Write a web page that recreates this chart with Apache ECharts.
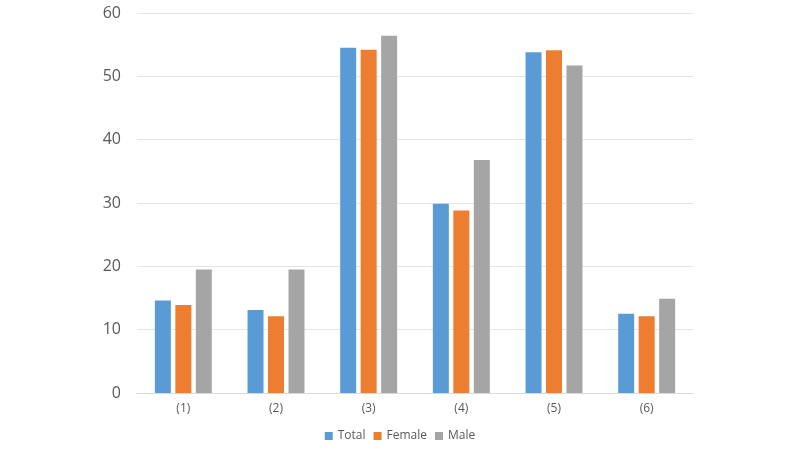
<!DOCTYPE html>
<html>
<head>
<meta charset="utf-8">
<script src="https://cdn.jsdelivr.net/npm/echarts@6/dist/echarts.min.js"></script>
<style>
  html, body { margin: 0; padding: 0; background: #fff; }
  #main { width: 800px; height: 450px; }
</style>
</head>
<body>
<div id="main"></div>
<script>
var categories = ['(1)', '(2)', '(3)', '(4)', '(5)', '(6)'];
var totalData = [14.6, 13.1, 54.5, 29.9, 53.8, 12.5];
var femaleData = [13.9, 12.1, 54.2, 28.8, 54.1, 12.1];
var maleData = [19.5, 19.5, 56.4, 36.8, 51.7, 14.9];
var seriesNames = ['Total', 'Female', 'Male'];
var colors = ['#5B9BD5', '#ED7D31', '#A5A5A5'];

var myChart = echarts.init(document.getElementById('main'), null, { renderer: 'canvas' });

var font = 'Open Sans';

function makeBar(name, data, color) {
    return {
        name: name,
        type: 'bar',
        data: data,
        barWidth: 16,
        barGap: '28%',
        itemStyle: { color: color },
        animation: false
    };
}

var option = {
    backgroundColor: '#ffffff',
    color: colors,
    grid: {
        left: 137,
        right: 107,
        top: 13,
        bottom: 57
    },
    legend: {
        bottom: 3,
        left: 'center',
        icon: 'rect',
        itemWidth: 8,
        itemHeight: 8,
        itemGap: 8,
        textStyle: { color: '#595959', fontSize: 12, fontFamily: font },
        data: seriesNames
    },
    xAxis: {
        type: 'category',
        data: categories,
        axisLine: { show: true, lineStyle: { color: '#d9d9d9' } },
        axisTick: { show: false },
        axisLabel: { color: '#595959', fontSize: 12, fontFamily: font, margin: 10 }
    },
    yAxis: {
        type: 'value',
        min: 0,
        max: 60,
        interval: 10,
        axisLine: { show: false },
        axisTick: { show: false },
        axisLabel: { color: '#595959', fontSize: 16, fontFamily: font, margin: 16 },
        splitLine: { lineStyle: { color: '#e6e6e6' } }
    },
    series: [
        makeBar(seriesNames[0], totalData, colors[0]),
        makeBar(seriesNames[1], femaleData, colors[1]),
        makeBar(seriesNames[2], maleData, colors[2])
    ]
};

myChart.setOption(option);
window.addEventListener('resize', myChart.resize);
</script>
</body>
</html>
